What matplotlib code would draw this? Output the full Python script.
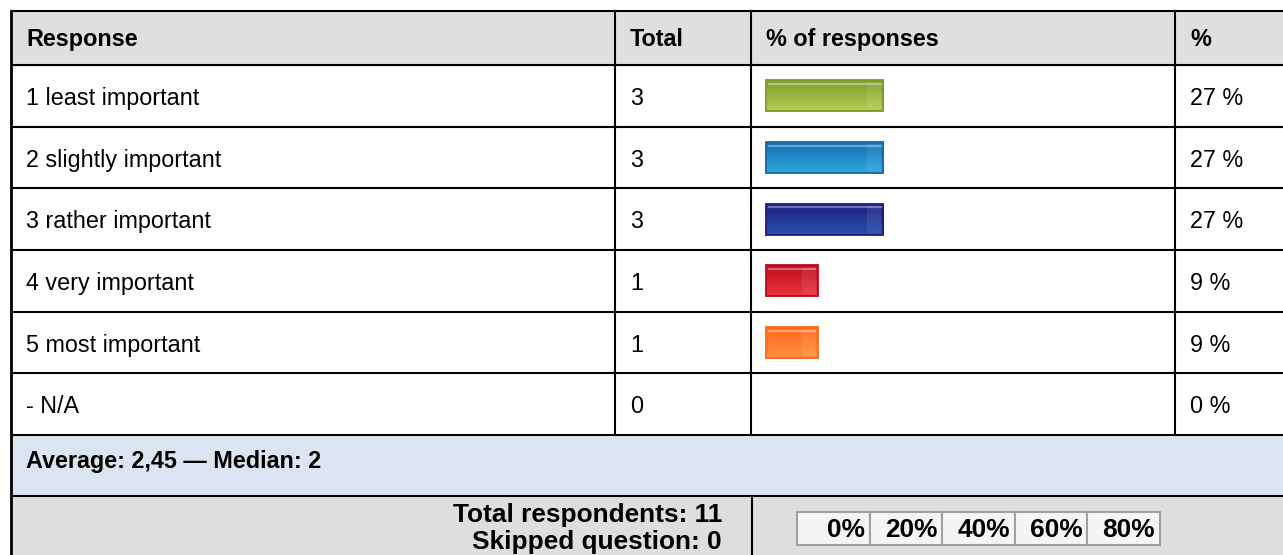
import matplotlib.pyplot as plt
import numpy as np
from matplotlib.patches import Rectangle
from matplotlib.colors import LinearSegmentedColormap

plt.rcParams['font.family'] = ['Liberation Sans', 'DejaVu Sans']

# data
headers = ['Response', 'Total', '% of responses', '%']
responses = ['1 least important', '2 slightly important', '3 rather important',
             '4 very important', '5 most important', '- N/A']
totals = [3, 3, 3, 1, 1, 0]
average = '2,45'
median = 2
skipped = 0
scale_labels = ['0%', '20%', '40%', '60%', '80%']

# bar styles (top of gradient, bottom of gradient, border)
bar_top = ['#7e9e2d', '#146cb6', '#1d2285', '#be0d24', '#ff6a1c', '#ffffff']
bar_bottom = ['#b4cc56', '#30a8d6', '#2b4eab', '#ea353d', '#ff8f40', '#ffffff']
bar_edge = ['#7a9a22', '#1366b0', '#1b1e7e', '#b80b21', '#ff6818', '#ffffff']

n_resp = sum(totals)
pcts = [t / n_resp * 100 for t in totals]

# layout in pixels
W, H = 1283, 555
left, right = 11, 1295
col_x = [11, 615, 751, 1175]
head_top, head_bot = 11, 65
row_h = (435 - 65) / 6
avg_top, avg_bot = 435, 496
bot_end = 570
LW = 1.5
fs = 16.8
fs_big = 18.9

fig = plt.figure(figsize=(W / 100, H / 100), dpi=100)
ax = fig.add_axes([0, 0, 1, 1])
ax.set_xlim(0, W)
ax.set_ylim(H, 0)
ax.axis('off')

# fills
ax.add_patch(Rectangle((left, head_top), right - left, head_bot - head_top, color='#dfdfdf', zorder=0))
ax.add_patch(Rectangle((left, avg_top), right - left, avg_bot - avg_top, color='#dbe5f1', zorder=0))
ax.add_patch(Rectangle((left, avg_bot), right - left, bot_end - avg_bot, color='#dedede', zorder=0))

# grid lines
hlines = [head_top, head_bot] + [head_bot + row_h * (i + 1) for i in range(6)] + [avg_bot]
for y in hlines:
    ax.plot([left, right], [y, y], color='black', lw=LW, solid_capstyle='butt', zorder=5)
ax.plot([left, left], [head_top, bot_end], color='black', lw=2.0, zorder=5)
for x in col_x[1:]:
    ax.plot([x, x], [head_top, avg_top], color='black', lw=LW, zorder=5)
ax.plot([752, 752], [avg_bot, bot_end], color='black', lw=LW, zorder=5)

# header text
for x, h in zip(col_x, headers):
    ax.text(x + 15, head_top + 35, h, fontsize=fs, fontweight='bold', va='baseline', ha='left')

# rows
for i, (r, t, p) in enumerate(zip(responses, totals, pcts)):
    y = head_bot + row_h * i + 40
    ax.text(col_x[0] + 15, y, r, fontsize=fs, va='baseline')
    ax.text(col_x[1] + 15, y, str(t), fontsize=fs, va='baseline')
    ax.text(col_x[3] + 15, y, '%d %%' % round(p), fontsize=fs, va='baseline')

ax.text(col_x[0] + 15, avg_top + 33, 'Average: %s \u2014 Median: %d' % (average, median),
        fontsize=fs, fontweight='bold', va='baseline')
ax.text(722, 522, 'Total respondents: %d' % n_resp, fontsize=fs_big, fontweight='bold',
        va='baseline', ha='right')
ax.text(722, 549, 'Skipped question: %d' % skipped, fontsize=fs_big, fontweight='bold',
        va='baseline', ha='right')

# scale box
cell_w = 72.6
sx0, sy0, sy1 = 797, 512, 545
for i, lab in enumerate(scale_labels):
    x0 = sx0 + cell_w * i
    ax.add_patch(Rectangle((x0, sy0), cell_w, sy1 - sy0, facecolor='#f5f5f5',
                           edgecolor='#a0a0a0', lw=1.5, zorder=3))
    ax.text(x0 + cell_w - 5, 537, lab, fontsize=fs_big, fontweight='bold',
            va='baseline', ha='right', zorder=4)

# bars
k = 3.576          # px per percent
pad = 5.45         # minimum bar length in percent
bx = fig.add_axes([col_x[2] / W, 1 - avg_top / H, (col_x[3] - col_x[2]) / W, (avg_top - head_bot) / H])
bx.patch.set_alpha(0)
bx.axis('off')
xmin = -pad - 15 / k
xmax = xmin + (col_x[3] - col_x[2]) / k
rows = np.arange(len(responses))
widths = [p + pad if t > 0 else 0 for p, t in zip(pcts, totals)]
bars = bx.barh(rows, widths, left=-pad, height=0.5, facecolor='none', zorder=3)
grad = np.linspace(0, 1, 64).reshape(-1, 1)
for i, b in enumerate(bars):
    if totals[i] == 0:
        b.set_visible(False)
        continue
    b.set_edgecolor(bar_edge[i])
    b.set_linewidth(1.3)
    x0, y0, w, h = b.get_x(), b.get_y(), b.get_width(), b.get_height()
    cmap = LinearSegmentedColormap.from_list('g%d' % i, [bar_top[i], bar_bottom[i]])
    im = bx.imshow(grad, extent=(x0, x0 + w, y0 + h, y0), cmap=cmap, aspect='auto',
                   origin='upper', zorder=2)
    im.set_clip_path(b)
    bx.plot([x0 + 2.5 / k, x0 + w - 2.5 / k], [y0 + 3.5 / row_h] * 2, color='white',
            alpha=0.35, lw=1.6, zorder=4)
    bx.add_patch(Rectangle((x0 + w - 16 / k, y0 + 2 / row_h), 14 / k, h - 4 / row_h,
                           color='white', alpha=0.08, lw=0, zorder=4))
bx.set_xlim(xmin, xmax)
bx.set_ylim(len(responses) - 0.5, -0.5)

fig.savefig('out.png', dpi=100)
